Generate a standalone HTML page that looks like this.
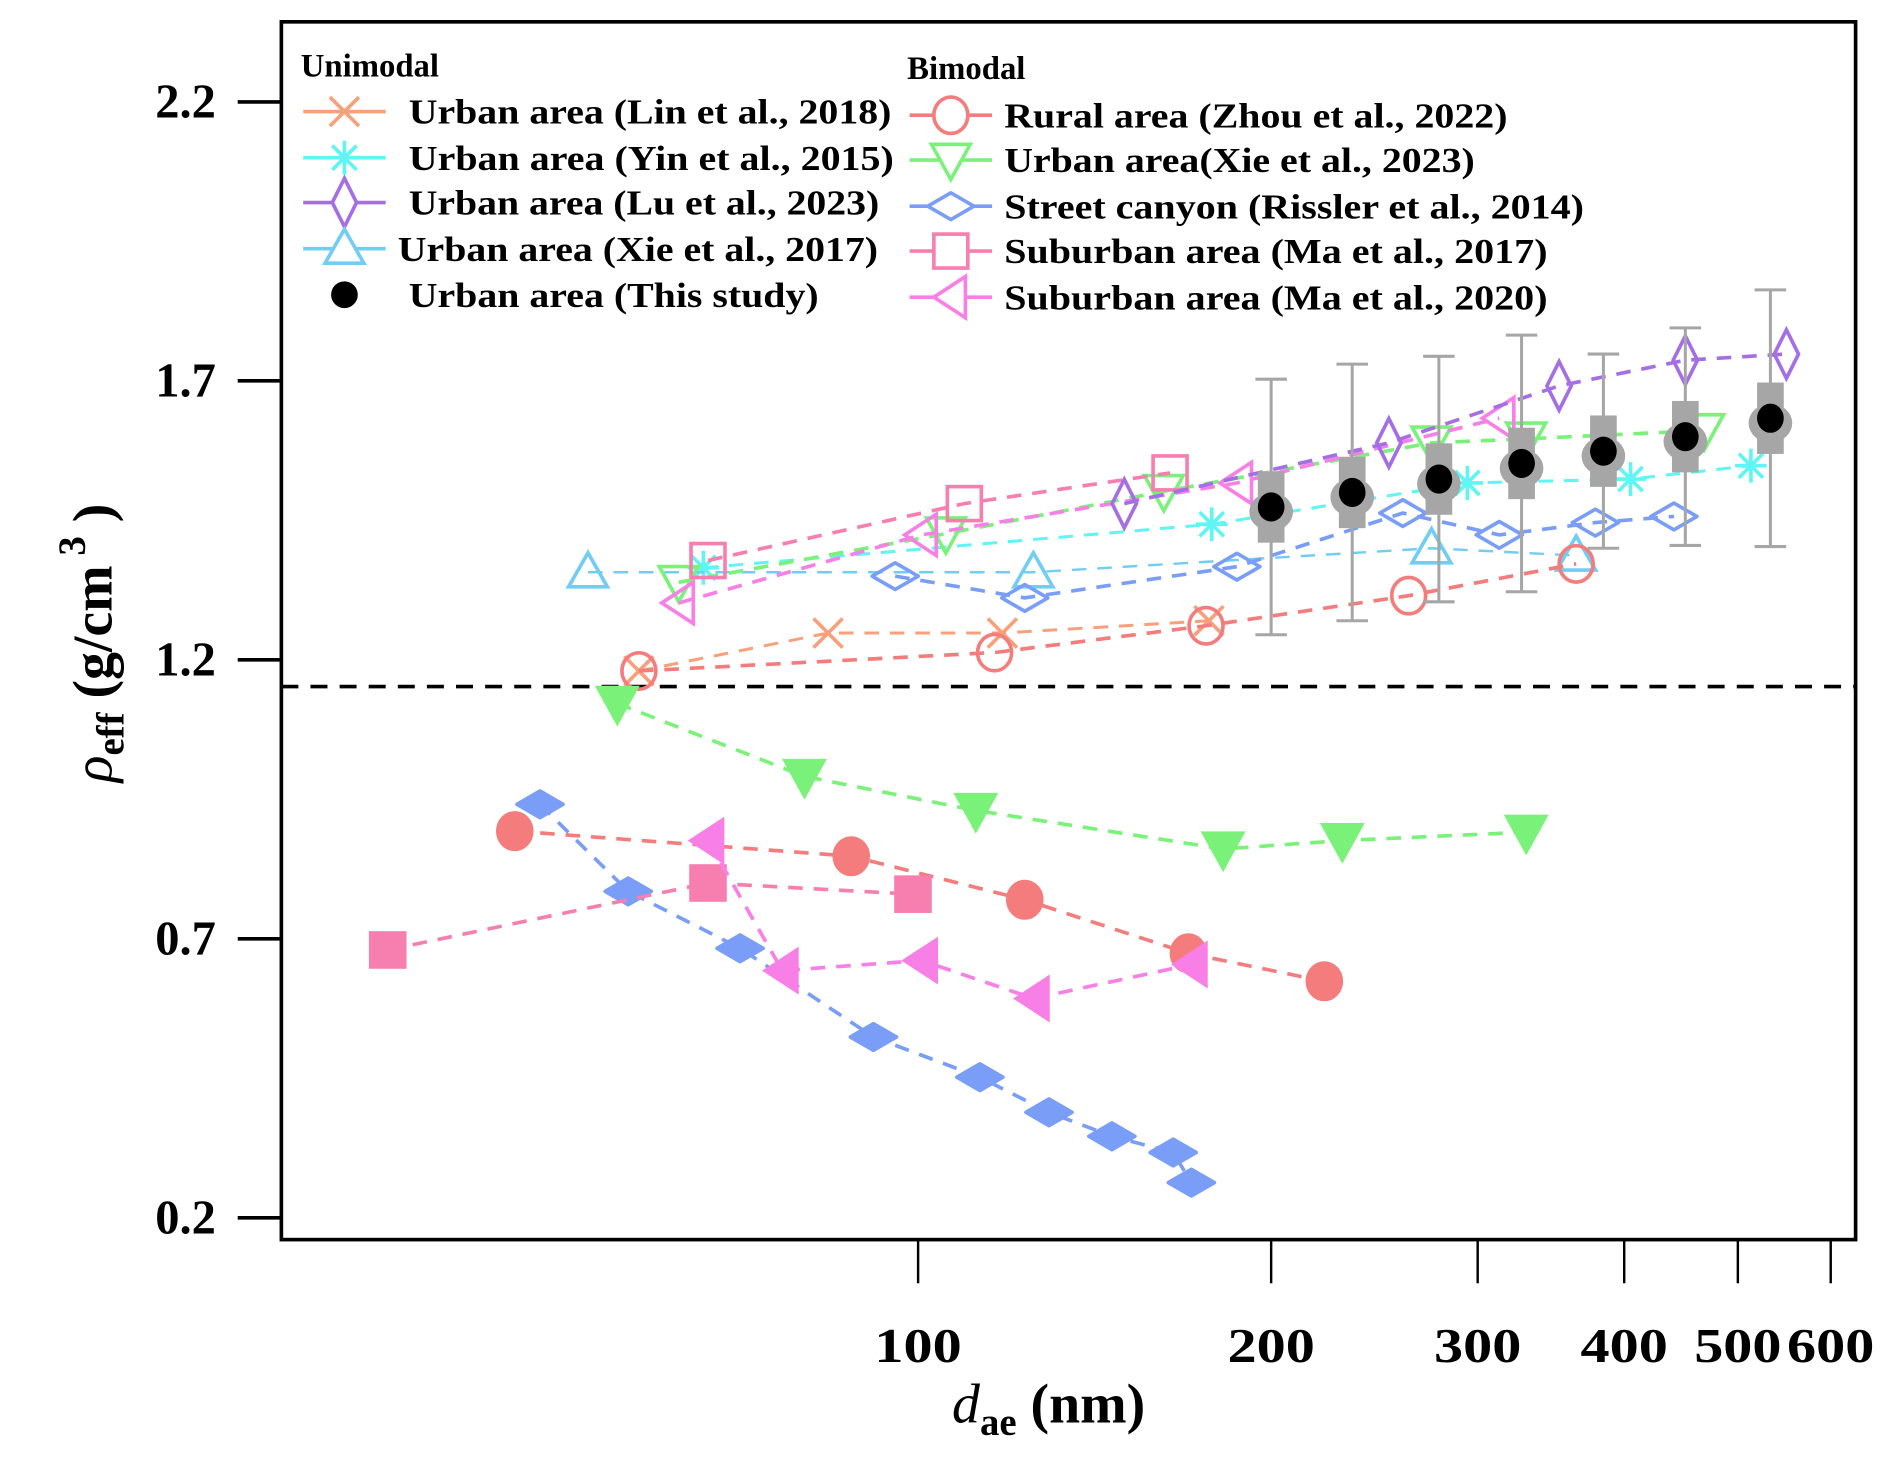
<!DOCTYPE html>
<html><head><meta charset="utf-8"><style>
html,body{margin:0;padding:0;background:#fff}
svg{display:block}
text{font-family:"Liberation Serif",serif;font-weight:bold;fill:#000}
</style></head><body>
<svg id="chart" width="1892" height="1464" viewBox="0 0 1560 1207" preserveAspectRatio="none" xmlns="http://www.w3.org/2000/svg">
<g id="plot"></g>
<g id="axes"></g>
<g id="legend"></g>
</svg>
<script>
// ---- data ----
const yTicks = [0.2, 0.7, 1.2, 1.7, 2.2];
const xTicks = [100, 200, 300, 400, 500, 600];
const refLine = 1.152;

const linX = [57.8, 83.8, 118, 177];
const linY = [1.18, 1.248, 1.248, 1.27];
const yinX = [65.6, 178, 294, 405, 513];
const yinY = [1.365, 1.443, 1.517, 1.524, 1.548];
const luX = [149.9, 252, 352, 451, 550];
const luY = [1.48, 1.589, 1.691, 1.737, 1.748];
const xie17X = [52.3, 125.4, 274, 364];
const xie17Y = [1.357, 1.357, 1.40, 1.387];
const studyX = [200, 234.5, 278, 327, 384, 451, 533];
const studyY = [1.474, 1.50, 1.524, 1.552, 1.574, 1.60, 1.633];
const studyErr = [0.229, 0.23, 0.22, 0.23, 0.174, 0.195, 0.23];
const studyBox = [0.064, 0.064, 0.064, 0.064, 0.064, 0.064, 0.064];

const zhouOpenX = [57.8, 116.2, 176, 262, 364];
const zhouOpenY = [1.18, 1.213, 1.261, 1.315, 1.372];
const zhouFillX = [45.3, 87.7, 123.3, 170, 222];
const zhouFillY = [0.893, 0.848, 0.770, 0.674, 0.624];
const xie23OpenX = [62.5, 105.6, 162, 274, 330, 468];
const xie23OpenY = [1.339, 1.426, 1.502, 1.589, 1.596, 1.611];
const xie23FillX = [55.4, 80.0, 112, 182, 230, 330];
const xie23FillY = [1.122, 0.991, 0.930, 0.861, 0.876, 0.891];
const risOpenX = [95.6, 123.3, 187, 259, 313, 378, 441];
const risOpenY = [1.35, 1.311, 1.367, 1.463, 1.424, 1.446, 1.457];
const risFillX = [47.6, 56.6, 70.5, 91.6, 112.9, 129.3, 146.3, 165, 171];
const risFillY = [0.941, 0.785, 0.683, 0.524, 0.452, 0.389, 0.346, 0.317, 0.263];
const ma17OpenX = [66.2, 109.5, 164];
const ma17OpenY = [1.378, 1.48, 1.535];
const ma17FillX = [35.3, 66.2, 99];
const ma17FillY = [0.68, 0.80, 0.78];
const ma20OpenX = [62.5, 100.7, 187, 313];
const ma20OpenY = [1.302, 1.424, 1.517, 1.633];
const ma20FillX = [66.2, 76.6, 100.7, 125.4, 171];
const ma20FillY = [0.876, 0.643, 0.661, 0.593, 0.654];

// ---- axes functions ----
const NS = "http://www.w3.org/2000/svg";
const X0 = 232, X1 = 1530, Y0 = 18, Y1 = 1022;
function xs(d){ return 757 + 967 * Math.log10(d / 100); }
function ys(v){ return 84 + (2.2 - v) * 460; }
function mk(tag, attrs, parent){
  const e = document.createElementNS(NS, tag);
  for (const k in attrs) e.setAttribute(k, attrs[k]);
  parent.appendChild(e); return e;
}
const plot = document.getElementById('plot');
const axes = document.getElementById('axes');
const legend = document.getElementById('legend');

function marker(g, type, x, y, color, filled){
  const fill = filled ? color : 'none';
  const sw = 3;
  let e;
  if (type === 'x'){
    e = mk('path', {d:`M${x-12},${y-12}L${x+12},${y+12}M${x-12},${y+12}L${x+12},${y-12}`, stroke:color, 'stroke-width':sw, fill:'none'}, g);
  } else if (type === 'star'){
    e = mk('path', {d:`M${x-13},${y}L${x+13},${y}M${x},${y-14}L${x},${y+14}M${x-10},${y-10}L${x+10},${y+10}M${x-10},${y+10}L${x+10},${y-10}`, stroke:color, 'stroke-width':sw, fill:'none'}, g);
  } else if (type === 'diamondTall'){
    e = mk('path', {d:`M${x},${y-20}L${x+10},${y}L${x},${y+20}L${x-10},${y}Z`, stroke:color, 'stroke-width':sw, fill:fill}, g);
  } else if (type === 'diamondWide'){
    e = mk('path', {d:`M${x-19},${y}L${x},${y-11}L${x+19},${y}L${x},${y+11}Z`, stroke:color, 'stroke-width':sw, fill:fill, 'stroke-linejoin':'round'}, g);
  } else if (type === 'tri'){
    e = mk('path', {d:`M${x},${y-16}L${x+16},${y+12}L${x-16},${y+12}Z`, stroke:color, 'stroke-width':sw, fill:fill}, g);
  } else if (type === 'triDown'){
    e = mk('path', {d:`M${x-16},${y-13}L${x+16},${y-13}L${x},${y+16}Z`, stroke:color, 'stroke-width':sw, fill:fill}, g);
  } else if (type === 'triLeft'){
    e = mk('path', {d:`M${x-14},${y}L${x+12},${y-17}L${x+12},${y+17}Z`, stroke:color, 'stroke-width':sw, fill:fill}, g);
  } else if (type === 'square'){
    e = mk('rect', {x:x-14, y:y-14, width:28, height:28, stroke:color, 'stroke-width':sw, fill:fill}, g);
  } else if (type === 'circle'){
    e = mk('ellipse', {cx:x, cy:y, rx:14, ry:15, stroke:color, 'stroke-width':sw, fill:fill}, g);
  } else if (type === 'dot'){
    e = mk('ellipse', {cx:x, cy:y, rx:11, ry:12, fill:'#000'}, g);
  }
  return e;
}

function series(name, xsArr, ysArr, type, color, filled, lineW){
  const g = mk('g', {}, plot);
  
  
  const pts = xsArr.map((d,i)=> xs(d).toFixed(1)+','+ys(ysArr[i]).toFixed(1)).join(' ');
  const pl = mk('polyline', {points:pts, fill:'none', stroke:color, 'stroke-width':lineW||3, 'stroke-dasharray':'12,9'}, g);
  
  
  xsArr.forEach((d,i)=>{
    const m = marker(g, type, xs(d), ys(ysArr[i]), color, filled);
    
    
  });
}

// frame
const frame = mk('rect', {x:X0, y:Y0, width:X1-X0, height:Y1-Y0, fill:'none', stroke:'#000', 'stroke-width':3}, axes);



// reference line
const rl = mk('line', {x1:X0, x2:X1, y1:ys(refLine), y2:ys(refLine), stroke:'#000', 'stroke-width':3, 'stroke-dasharray':'14,10'}, plot);



// series
series('lin-2018', linX, linY, 'x', '#f9a07a', false, 2.5);
series('yin-2015', yinX, yinY, 'star', '#5ff5f5', false, 2.5);
series('xie-2017', xie17X, xie17Y, 'tri', '#72cdf5', false, 2);
series('zhou-2022-open', zhouOpenX, zhouOpenY, 'circle', '#f47c7c', false);
series('xie-2023-open', xie23OpenX, xie23OpenY, 'triDown', '#7af27a', false);
series('rissler-2014-open', risOpenX, risOpenY, 'diamondWide', '#7a9ef7', false);
series('ma-2017-open', ma17OpenX, ma17OpenY, 'square', '#f77fb0', false);
series('ma-2020-open', ma20OpenX, ma20OpenY, 'triLeft', '#f77fe6', false);
series('lu-2023', luX, luY, 'diamondTall', '#a46ee6', false);
series('zhou-2022-filled', zhouFillX, zhouFillY, 'circle', '#f47c7c', true);
series('xie-2023-filled', xie23FillX, xie23FillY, 'triDown', '#7af27a', true);
series('rissler-2014-filled', risFillX, risFillY, 'diamondWide', '#7a9ef7', true);
series('ma-2017-filled', ma17FillX, ma17FillY, 'square', '#f77fb0', true);
series('ma-2020-filled', ma20FillX, ma20FillY, 'triLeft', '#f77fe6', true);

// this study
const sg = mk('g', {}, plot);


studyX.forEach((d,i)=>{
  const x = xs(d), y = ys(studyY[i]);
  const t = ys(studyY[i] + studyErr[i]), b = ys(studyY[i] - studyErr[i]);
  const eb = mk('path', {d:`M${x},${t}L${x},${b}M${x-13},${t}L${x+13},${t}M${x-13},${b}L${x+13},${b}`, stroke:'#a6a6a6', 'stroke-width':2.5, fill:'none'}, sg);
  
  
  const bx = mk('rect', {x:x-11, y:ys(studyY[i]+studyBox[i]), width:22, height:ys(studyY[i]-studyBox[i])-ys(studyY[i]+studyBox[i]), fill:'#a6a6a6'}, sg);
  
  
  const gc = mk('ellipse', {cx:x, cy:y+4, rx:18, ry:16, fill:'#a6a6a6'}, sg);
  
  
  const dt = marker(sg, 'dot', x, y, '#000', true);
  
  
});

// y ticks
yTicks.forEach(v=>{
  const y = ys(v);
  const tl = mk('line', {x1:196, x2:X0, y1:y, y2:y, stroke:'#000', 'stroke-width':3}, axes);
  
  
  const tx = mk('text', {x:178, y:y+13, 'text-anchor':'end', 'font-size':40}, axes);
  tx.textContent = v.toFixed(1);
  
  
});
// x ticks
xTicks.forEach(v=>{
  const x = xs(v);
  const tl = mk('line', {x1:x, x2:x, y1:Y1, y2:1058, stroke:'#000', 'stroke-width':2}, axes);
  
  
  const tx = mk('text', {x:x, y:1123, 'text-anchor':'middle', 'font-size':40, textLength:72, lengthAdjust:'spacingAndGlyphs'}, axes);
  tx.textContent = String(v);
  
  
});

// axis titles
const xt = mk('text', {x:785, y:1173, 'font-size':46}, axes);
xt.innerHTML = '<tspan font-style="italic" font-weight="normal">d</tspan><tspan font-size="32" dy="10">ae</tspan><tspan dy="-10"> (nm)</tspan>';


const yt = mk('text', {x:0, y:0, 'font-size':46, transform:'translate(92,645) rotate(-90)'}, axes);
yt.innerHTML = '<tspan font-style="italic" font-weight="normal">ρ</tspan><tspan font-size="32" dy="10">eff</tspan><tspan dy="-10"> (g/cm</tspan><tspan font-size="32" dy="-22"> 3</tspan><tspan dy="22"> )</tspan>';



// legend
const uni = mk('text', {x:248, y:63, 'font-size':27}, legend);
uni.textContent = 'Unimodal';


const bim = mk('text', {x:748, y:65, 'font-size':27}, legend);
bim.textContent = 'Bimodal';



const legLeft = [
  ['Urban area (Lin et al., 2018)', 'x', '#f9a07a', 92, 337, 398],
  ['Urban area (Yin et al., 2015)', 'star', '#5ff5f5', 130, 337, 400],
  ['Urban area (Lu et al., 2023)', 'diamondTall', '#a46ee6', 167, 337, 388],
  ['Urban area (Xie et al., 2017)', 'tri', '#72cdf5', 205, 328, 396],
  ['Urban area (This study)', 'dot', '#000', 243, 337, 338]
];
const legRight = [
  ['Rural area (Zhou et al., 2022)', 'circle', '#f47c7c', 95, 828, 415],
  ['Urban area(Xie et al., 2023)', 'triDown', '#7af27a', 132, 828, 388],
  ['Street canyon (Rissler et al., 2014)', 'diamondWide', '#7a9ef7', 170, 828, 478],
  ['Suburban area (Ma et al., 2017)', 'square', '#f77fb0', 207, 828, 448],
  ['Suburban area (Ma et al., 2020)', 'triLeft', '#f77fe6', 245, 828, 448]
];
function legEntry(item, lx){
  const [label, type, color, y, tx, tw] = item;
  const g = mk('g', {}, legend);
  
  
  if (type !== 'dot') mk('line', {x1:lx, x2:lx+68, y1:y, y2:y, stroke:color, 'stroke-width':3}, g);
  if (type === 'dot') mk('ellipse', {cx:lx+34, cy:y, rx:11, ry:11, fill:'#000'}, g);
  else { const m = marker(g, type, lx+34, y, color, false); m.setAttribute('fill', '#fff'); }
  const t = mk('text', {x:tx, y:y+10, 'font-size':29, textLength:tw, lengthAdjust:'spacingAndGlyphs'}, g);
  t.textContent = label;
}
legLeft.forEach(it=>legEntry(it, 250));
legRight.forEach(it=>legEntry(it, 750));
</script>
</body></html>
